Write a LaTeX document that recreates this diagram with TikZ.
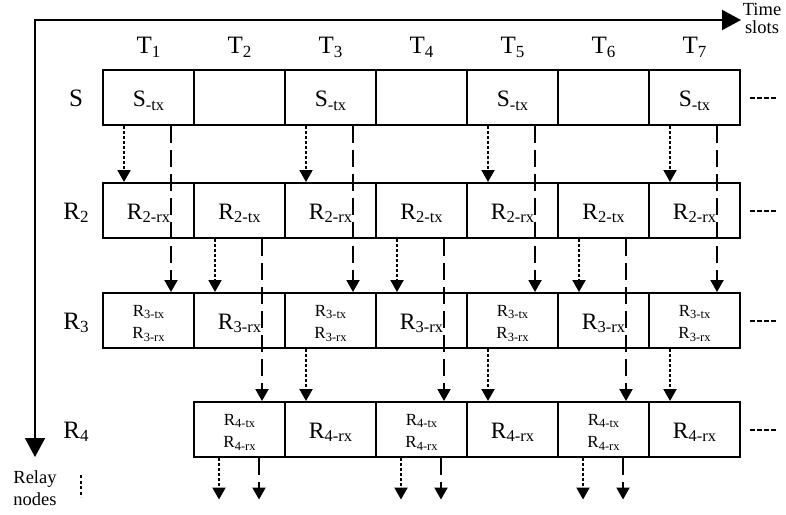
\documentclass[tikz,border=0pt]{standalone}
\usepackage{fontspec}
\setmainfont{Liberation Serif}
\usetikzlibrary{arrows.meta}
\newcommand{\bigtxt}[2]{{\fontsize{23.5}{26}\selectfont #1\raisebox{-3.5pt}{\fontsize{16.5}{18}\selectfont #2}}}
\newcommand{\smalltxt}[2]{{\fontsize{17}{19}\selectfont #1\raisebox{-2.5pt}{\fontsize{12.5}{14}\selectfont #2}}}
\newcommand{\lbltxt}[2]{{\fontsize{25}{28}\selectfont #1\raisebox{-3pt}{\fontsize{17}{19}\selectfont #2}}}
\tikzset{
  cell/.style={draw, line width=2pt, minimum width=91pt, minimum height=55pt, inner sep=0pt, outer sep=0pt},
  dotarr/.style={line width=2pt, dash pattern=on 3pt off 2pt, -{Triangle[width=13pt,length=12pt]}},
  dasharr/.style={line width=2pt, dash pattern=on 17pt off 7pt, -{Triangle[width=13pt,length=12pt]}},
  more/.style={line width=2pt, dash pattern=on 4.5pt off 2.5pt},
  txt/.style={anchor=base, inner sep=0pt},
  plain/.style={anchor=base, inner sep=0pt, font=\fontsize{18.5}{20}\selectfont}
}
\begin{document}
\begin{tikzpicture}[x=1pt,y=-1pt]
\useasboundingbox (0,0) rectangle (786,514);
% axes
\coordinate (O) at (35,20);
\coordinate (X) at (741,20);
\coordinate (Y) at (35,457);
\draw[line width=2pt, {Triangle[width=20pt,length=19pt]}-{Triangle[width=20pt,length=19pt]}] (X) -- (O) -- (Y);
\node[plain] (time) at (762,15.7) {Time};
\node[plain] (slots) at (762,33.5) {slots};
\node[plain] (relay) at (35,483.3) {Relay};
\node[plain] (nodes) at (35,505.5) {nodes};
\coordinate (v1) at (81,475);
\coordinate (v2) at (81,497);
\draw[line width=2pt, dash pattern=on 3pt off 2.5pt] (v1) -- (v2);
% row labels
\node[txt] (lS) at (76,106.8) {\lbltxt{S}{}};
\node[txt] (l2) at (76,219.3) {\lbltxt{R}{2}};
\node[txt] (l3) at (76,329.6) {\lbltxt{R}{3}};
\node[txt] (l4) at (76,438.5) {\lbltxt{R}{4}};
% cells
\foreach \i in {1,...,7}{
  \pgfmathsetmacro\cx{103+(\i-0.5)*91}
  \node[txt] (t\i) at (\cx,53.3) {\fontsize{25}{28}\selectfont T\raisebox{-4pt}{\fontsize{17}{19}\selectfont\i}};
  \node[cell] (s\i) at (\cx,97.5) {};
  \node[cell] (a\i) at (\cx,210.5) {};
  \node[cell] (b\i) at (\cx,320.5) {};
  \ifodd\i
    \node[txt] (ts\i) at (\cx,106.5) {\bigtxt{S}{-tx}};
    \node[txt] (ta\i) at (\cx,219) {\bigtxt{R}{2-rx}};
    \node[txt] (tb\i) at (\cx,316.2) {\smalltxt{R}{3-tx}};
    \node[txt] (ub\i) at (\cx,338.5) {\smalltxt{R}{3-rx}};
  \else
    \node[txt] (ta\i) at (\cx,219) {\bigtxt{R}{2-tx}};
    \node[txt] (tb\i) at (\cx,329) {\bigtxt{R}{3-rx}};
  \fi
}
\foreach \i in {2,...,7}{
  \pgfmathsetmacro\cx{103+(\i-0.5)*91}
  \node[cell] (c\i) at (\cx,429.5) {};
  \ifodd\i
    \node[txt] (tc\i) at (\cx,438) {\bigtxt{R}{4-rx}};
  \else
    \node[txt] (tc\i) at (\cx,425.4) {\smalltxt{R}{4-tx}};
    \node[txt] (uc\i) at (\cx,447.7) {\smalltxt{R}{4-rx}};
  \fi
}
% continuation marks
\foreach \r/\y in {s/97.5,a/210.5,b/320.5,c/429.5}{
  \coordinate (m1\r) at (750,\y);
  \coordinate (m2\r) at (777,\y);
  \draw[more] (m1\r) -- (m2\r);
}
% arrows
\foreach \i in {1,3,5,7}{
  \draw[dotarr] ([xshift=-24.5pt,yshift=-1pt]s\i.south) -- ([xshift=-24.5pt,yshift=1pt]a\i.north);
  \draw[dasharr] ([xshift=22.5pt,yshift=-1pt]s\i.south) -- ([xshift=22.5pt,yshift=1pt]b\i.north);
}
\foreach \i in {2,4,6}{
  \draw[dotarr] ([xshift=-24.5pt,yshift=-1pt]a\i.south) -- ([xshift=-24.5pt,yshift=1pt]b\i.north);
  \draw[dasharr] ([xshift=22.5pt,yshift=-1pt]a\i.south) -- ([xshift=22.5pt,yshift=1pt]c\i.north);
}
\foreach \i in {3,5,7}{
  \draw[dotarr] ([xshift=-24.5pt,yshift=-1pt]b\i.south) -- ([xshift=-24.5pt,yshift=1pt]c\i.north);
}
\foreach \i in {2,4,6}{
  \pgfmathsetmacro\cx{103+(\i-0.5)*91}
  \coordinate (d\i) at (\cx-20.5,499.5);
  \coordinate (e\i) at (\cx+19.5,499.5);
  \draw[dotarr] ([xshift=-20.5pt,yshift=-1pt]c\i.south) -- (d\i);
  \draw[dasharr] ([xshift=19.5pt,yshift=-1pt]c\i.south) -- (e\i);
}
\end{tikzpicture}
\end{document}
